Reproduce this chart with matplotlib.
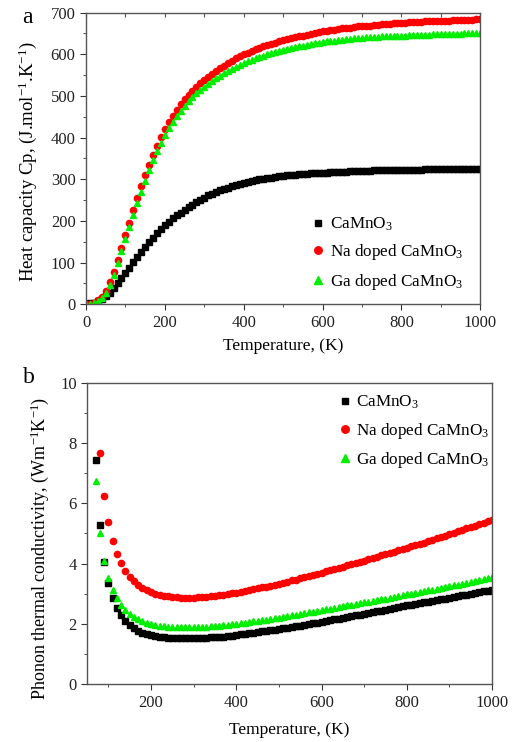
import numpy as np
import matplotlib
matplotlib.use("Agg")
import matplotlib.pyplot as plt
from matplotlib.ticker import MultipleLocator

plt.rcParams['font.family'] = ['Liberation Serif', 'DejaVu Serif']
plt.rcParams['mathtext.fontset'] = 'custom'
plt.rcParams['mathtext.rm'] = 'Liberation Serif'
plt.rcParams['mathtext.it'] = 'Liberation Serif:italic'

# panel a: heat capacity, every 10 K
temp_a = np.arange(0, 1001, 10)
cp_pure = [0, 2, 4, 8, 13, 20, 28, 38, 50, 62,
           75, 88, 101, 114, 126, 138, 149, 160, 171, 181,
           190, 198, 206, 213, 220, 227, 233, 239, 245, 250,
           256, 261, 265, 269, 273, 276, 280, 283, 286, 289,
           292, 294, 296, 298, 300, 301, 303, 304, 306, 307,
           308, 309, 310, 311, 312, 313, 313, 314, 315, 315,
           316, 316, 317, 317, 318, 318, 318, 319, 319, 319,
           320, 320, 320, 321, 321, 321, 321, 322, 322, 322,
           322, 323, 323, 323, 323, 323, 324, 324, 324, 324,
           324, 324, 324, 325, 325, 325, 325, 325, 325, 325,
           325]
cp_na = [0, 1, 3, 9, 18, 31, 53, 78, 106, 136,
         166, 196, 226, 255, 283, 310, 335, 359, 381, 401,
         420, 437, 453, 467, 480, 492, 502, 512, 521, 530,
         538, 546, 553, 560, 567, 573, 579, 584, 590, 595,
         600, 604, 608, 612, 616, 619, 622, 625, 628, 631,
         634, 636, 639, 641, 643, 645, 647, 649, 651, 653,
         655, 657, 658, 659, 661, 662, 663, 664, 665, 667,
         668, 669, 669, 670, 671, 672, 673, 673, 674, 675,
         676, 676, 677, 677, 678, 678, 679, 679, 679, 680,
         680, 681, 681, 682, 682, 682, 683, 683, 683, 684,
         684]
cp_ga = [0, 1, 3, 7, 15, 27, 47, 71, 98, 127,
         156, 185, 214, 242, 270, 296, 321, 345, 367, 387,
         406, 423, 438, 452, 465, 477, 488, 498, 507, 515,
         522, 529, 536, 542, 548, 554, 559, 564, 569, 574,
         579, 583, 587, 591, 594, 597, 600, 603, 606, 608,
         611, 613, 615, 617, 619, 621, 623, 625, 627, 628,
         630, 631, 632, 633, 634, 635, 636, 637, 638, 639,
         640, 641, 641, 642, 642, 643, 643, 644, 644, 645,
         645, 645, 646, 646, 646, 647, 647, 647, 648, 648,
         648, 648, 649, 649, 649, 649, 650, 650, 650, 650,
         650]

# panel b: phonon thermal conductivity
temp_b = np.arange(70, 1001, 10)
temp_b_na = np.arange(80, 1001, 10)
k_pure = [7.45, 5.27, 4.07, 3.35, 2.86, 2.53, 2.29, 2.11, 1.97, 1.86,
          1.78, 1.71, 1.66, 1.62, 1.59, 1.57, 1.55, 1.54, 1.53, 1.52,
          1.52, 1.52, 1.52, 1.52, 1.53, 1.53, 1.54, 1.55, 1.56, 1.57,
          1.58, 1.60, 1.61, 1.63, 1.65, 1.67, 1.69, 1.71, 1.73, 1.75,
          1.77, 1.79, 1.81, 1.83, 1.85, 1.87, 1.90, 1.92, 1.94, 1.97,
          1.99, 2.02, 2.04, 2.07, 2.10, 2.12, 2.15, 2.17, 2.20, 2.23,
          2.25, 2.28, 2.31, 2.33, 2.36, 2.39, 2.42, 2.44, 2.47, 2.50,
          2.53, 2.55, 2.58, 2.61, 2.64, 2.66, 2.69, 2.71, 2.74, 2.77,
          2.79, 2.82, 2.84, 2.87, 2.90, 2.92, 2.95, 2.97, 3.00, 3.03,
          3.05, 3.08, 3.10, 3.13]
k_ga = [6.73, 5.01, 4.10, 3.51, 3.13, 2.85, 2.63, 2.47, 2.34, 2.23,
        2.15, 2.08, 2.03, 1.99, 1.96, 1.94, 1.92, 1.91, 1.90, 1.89,
        1.89, 1.89, 1.89, 1.89, 1.90, 1.90, 1.91, 1.92, 1.93, 1.94,
        1.96, 1.97, 1.99, 2.00, 2.02, 2.04, 2.06, 2.08, 2.10, 2.12,
        2.14, 2.16, 2.19, 2.21, 2.23, 2.26, 2.28, 2.30, 2.33, 2.35,
        2.38, 2.40, 2.43, 2.45, 2.48, 2.50, 2.53, 2.55, 2.58, 2.61,
        2.63, 2.66, 2.68, 2.71, 2.74, 2.76, 2.79, 2.82, 2.84, 2.87,
        2.90, 2.92, 2.95, 2.98, 3.00, 3.03, 3.06, 3.08, 3.11, 3.14,
        3.17, 3.19, 3.22, 3.25, 3.28, 3.30, 3.33, 3.36, 3.39, 3.42,
        3.45, 3.48, 3.51, 3.55]
k_na = [7.67, 6.25, 5.37, 4.76, 4.33, 4.01, 3.77, 3.57, 3.41, 3.29,
        3.19, 3.11, 3.05, 3.00, 2.96, 2.93, 2.91, 2.89, 2.88, 2.87,
        2.87, 2.87, 2.87, 2.88, 2.89, 2.90, 2.91, 2.93, 2.95, 2.97,
        2.99, 3.01, 3.04, 3.06, 3.09, 3.12, 3.15, 3.18, 3.21, 3.24,
        3.27, 3.30, 3.33, 3.37, 3.40, 3.44, 3.47, 3.51, 3.55, 3.58,
        3.62, 3.66, 3.70, 3.74, 3.78, 3.82, 3.86, 3.90, 3.94, 3.98,
        4.02, 4.06, 4.10, 4.14, 4.18, 4.22, 4.27, 4.31, 4.35, 4.39,
        4.44, 4.48, 4.52, 4.57, 4.61, 4.66, 4.70, 4.75, 4.79, 4.84,
        4.89, 4.93, 4.98, 5.03, 5.07, 5.12, 5.17, 5.22, 5.26, 5.31,
        5.36, 5.41, 5.46]

labels = ['CaMnO$_3$', 'Na doped CaMnO$_3$', 'Ga doped CaMnO$_3$']
RED = '#ff0000'
GREEN = '#00ee00'

fig = plt.figure(figsize=(5.12, 7.42), dpi=100)
ax1 = fig.add_axes([0.168, 0.590, 0.770, 0.393])
ax2 = fig.add_axes([0.170, 0.078, 0.791, 0.406])


def style(ax):
    for s in ax.spines.values():
        s.set_color('#555555')
        s.set_linewidth(1.0)
    ax.tick_params(which='both', direction='out', colors='#333333',
                   labelsize=12, labelcolor='#222222')
    ax.tick_params(which='major', length=4)
    ax.tick_params(which='minor', length=2.5)


ax1.plot(temp_a, cp_pure, 's', color='black', ms=4, label=labels[0])
ax1.plot(temp_a, cp_na, 'o', color=RED, ms=4.5, label=labels[1])
ax1.plot(temp_a, cp_ga, '^', color=GREEN, ms=4.5, label=labels[2])
ax1.set_xlim(0, 1000)
ax1.set_ylim(0, 700)
ax1.xaxis.set_major_locator(MultipleLocator(200))
ax1.xaxis.set_minor_locator(MultipleLocator(100))
ax1.yaxis.set_major_locator(MultipleLocator(100))
ax1.yaxis.set_minor_locator(MultipleLocator(50))
style(ax1)
ax1.set_xlabel('Temperature, (K)', fontsize=12.5, labelpad=5)
ax1.set_ylabel('Heat capacity Cp, (J.mol$^{-1}$.K$^{-1}$)', fontsize=13.5)
ax1.yaxis.set_label_coords(-0.12, 0.49)
sec = ax1.secondary_xaxis('top')
sec.xaxis.set_major_locator(MultipleLocator(100))
sec.tick_params(direction='in', length=3, labeltop=False, colors='#555555')
sec.spines['top'].set_visible(False)
ax1.legend(loc='lower right', bbox_to_anchor=(0.995, -0.01), frameon=False,
           fontsize=12.3, handlelength=0.6, handletextpad=0.4, labelspacing=0.55,
           markerscale=1.2)
fig.text(0.043, 0.976, 'a', fontsize=17, ha='left', va='center')

ax2.plot(temp_b, k_pure, 's', color='black', ms=4, label=labels[0])
ax2.plot(temp_b_na, k_na, 'o', color=RED, ms=4.5, label=labels[1])
ax2.plot(temp_b, k_ga, '^', color=GREEN, ms=4.5, label=labels[2])
ax2.set_xlim(50, 1000)
ax2.set_ylim(0, 10)
ax2.xaxis.set_major_locator(MultipleLocator(200))
ax2.xaxis.set_minor_locator(MultipleLocator(100))
ax2.yaxis.set_major_locator(MultipleLocator(2))
ax2.yaxis.set_minor_locator(MultipleLocator(1))
style(ax2)
ax2.set_xlabel('Temperature, (K)', fontsize=12.5, labelpad=8)
ax2.set_ylabel('Phonon thermal conductivity, (Wm$^{-1}$K$^{-1}$)', fontsize=13)
ax2.yaxis.set_label_coords(-0.09, 0.45)
ax2.legend(loc='upper right', bbox_to_anchor=(1.03, 1.015), frameon=False,
           fontsize=12.3, handlelength=0.6, handletextpad=0.3, labelspacing=0.55,
           markerscale=1.2)
fig.text(0.045, 0.491, 'b', fontsize=17, ha='left', va='center')

fig.savefig('out.png', dpi=100)
